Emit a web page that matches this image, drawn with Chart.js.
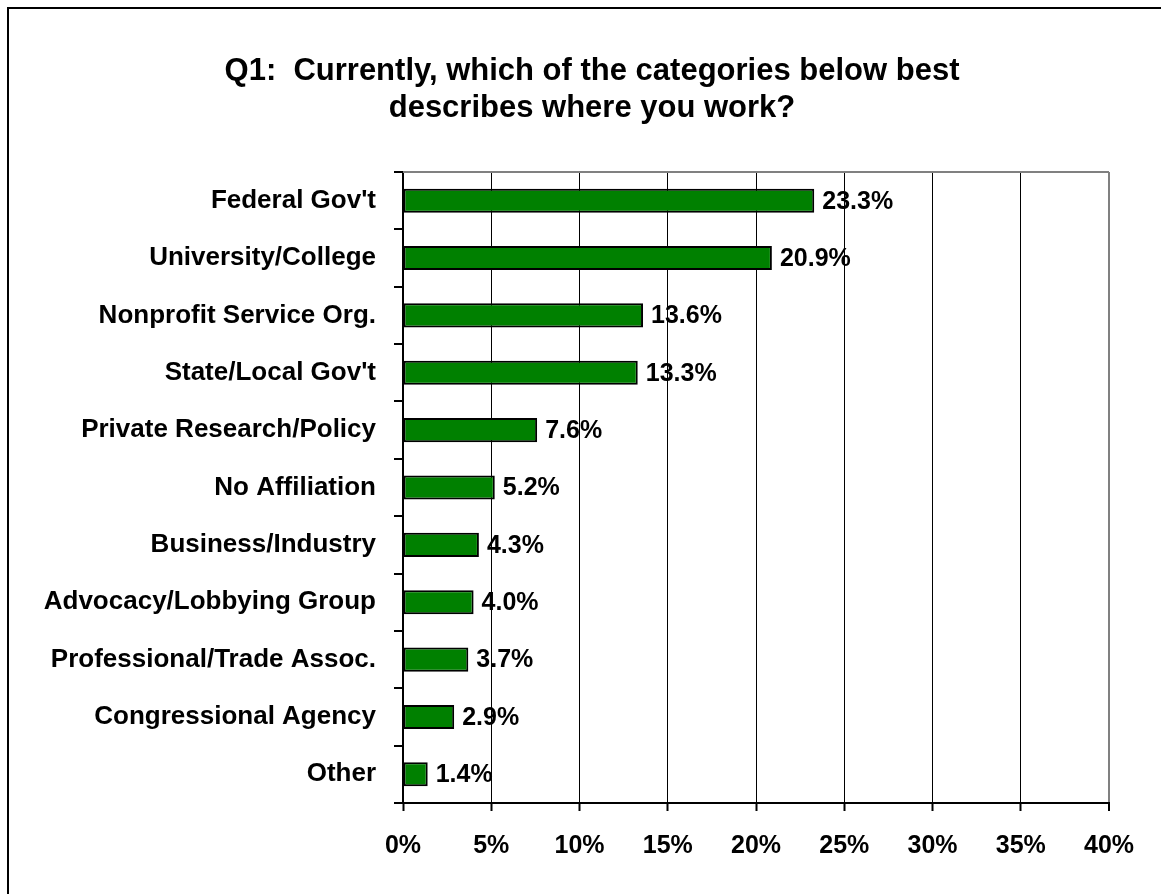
<!DOCTYPE html>
<html>
<head>
<meta charset="utf-8">
<title>Q1: Where you work</title>
<script src="https://cdn.jsdelivr.net/npm/chart.js@4/dist/chart.umd.min.js"></script>
<style>
  body { margin: 0; background: #fff; }
  canvas { display: block; }
</style>
</head>
<body>
<canvas id="workChart" width="1161" height="894"></canvas>
<script>
const FONT = "Arial, 'Liberation Sans', sans-serif";

// Survey answers, top to bottom
const categories = [
  "Federal Gov't",
  "University/College",
  "Nonprofit Service Org.",
  "State/Local Gov't",
  "Private Research/Policy",
  "No Affiliation",
  "Business/Industry",
  "Advocacy/Lobbying Group",
  "Professional/Trade Assoc.",
  "Congressional Agency",
  "Other"
];
const percentages = [23.3, 20.9, 13.6, 13.3, 7.6, 5.2, 4.3, 4.0, 3.7, 2.9, 1.4];
const tickValues = [0, 5, 10, 15, 20, 25, 30, 35, 40];
const tickLabels = ["0%", "5%", "10%", "15%", "20%", "25%", "30%", "35%", "40%"];
const titleLines = [
  "Q1:  Currently, which of the categories below best",
  "describes where you work?"
];

// Outer frame, title and the grey top edge of the plot
const decorations = {
  id: 'decorations',
  beforeDraw(chart) {
    const ctx = chart.ctx;
    ctx.save();
    ctx.fillStyle = '#fff';
    ctx.fillRect(0, 0, chart.width, chart.height);
    ctx.strokeStyle = '#000';
    ctx.lineWidth = 2;
    ctx.strokeRect(8, 8, chart.width + 20, chart.height + 20);
    ctx.fillStyle = '#000';
    ctx.font = 'bold 31px ' + FONT;
    ctx.textAlign = 'center';
    ctx.textBaseline = 'alphabetic';
    ctx.fillText(titleLines[0], 592, 80);
    ctx.fillText(titleLines[1], 592, 117);
    ctx.restore();
  },
  beforeDatasetsDraw(chart) {
    const ctx = chart.ctx;
    const area = chart.chartArea;
    ctx.save();
    ctx.strokeStyle = '#808080';
    ctx.lineWidth = 2;
    ctx.beginPath();
    ctx.moveTo(area.left, area.top);
    ctx.lineTo(area.right, area.top);
    ctx.stroke();
    ctx.restore();
  }
};

// Percent labels just past the end of each bar
const valueLabels = {
  id: 'valueLabels',
  afterDatasetsDraw(chart) {
    const ctx = chart.ctx;
    const meta = chart.getDatasetMeta(0);
    ctx.save();
    ctx.fillStyle = '#000';
    ctx.font = 'bold 25px ' + FONT;
    ctx.textAlign = 'left';
    ctx.textBaseline = 'middle';
    meta.data.forEach((bar, i) => {
      ctx.fillText(percentages[i].toFixed(1) + '%', bar.x + 8, bar.y + 1);
    });
    ctx.restore();
  }
};

new Chart(document.getElementById('workChart'), {
  type: 'bar',
  data: {
    labels: categories,
    datasets: [{
      data: percentages,
      backgroundColor: '#008000',
      borderColor: '#000',
      borderWidth: 2,
      borderSkipped: false,
      barPercentage: 0.42,
      categoryPercentage: 1
    }]
  },
  options: {
    indexAxis: 'y',
    responsive: false,
    animation: false,
    layout: { padding: { top: 172, right: 52, bottom: 0, left: 0 } },
    plugins: {
      legend: { display: false },
      title: { display: false },
      tooltip: { enabled: false }
    },
    scales: {
      x: {
        min: 0,
        max: 40,
        afterFit: (scale) => { scale.height = 91; },
        afterBuildTicks: (scale) => { scale.ticks = tickValues.map(v => ({ value: v })); },
        ticks: {
          color: '#000',
          padding: 20,
          font: { family: FONT, size: 25, weight: 'bold' },
          callback: (v) => tickLabels[tickValues.indexOf(v)]
        },
        grid: {
          color: (c) => (c.tick && c.tick.value === 40 ? '#808080' : '#000'),
          lineWidth: (c) => (c.tick && c.tick.value === 40 ? 2 : 1),
          tickColor: '#000',
          tickWidth: 2,
          tickLength: 8
        },
        border: { color: '#000', width: 2 }
      },
      y: {
        afterFit: (scale) => { scale.width = 403; },
        ticks: {
          color: '#000',
          padding: 18,
          font: { family: FONT, size: 26, weight: 'bold' }
        },
        grid: {
          offset: true,
          drawOnChartArea: false,
          color: '#000',
          lineWidth: 2,
          tickLength: 9
        },
        border: { color: '#000', width: 2 }
      }
    }
  },
  plugins: [decorations, valueLabels]
});
</script>
</body>
</html>
